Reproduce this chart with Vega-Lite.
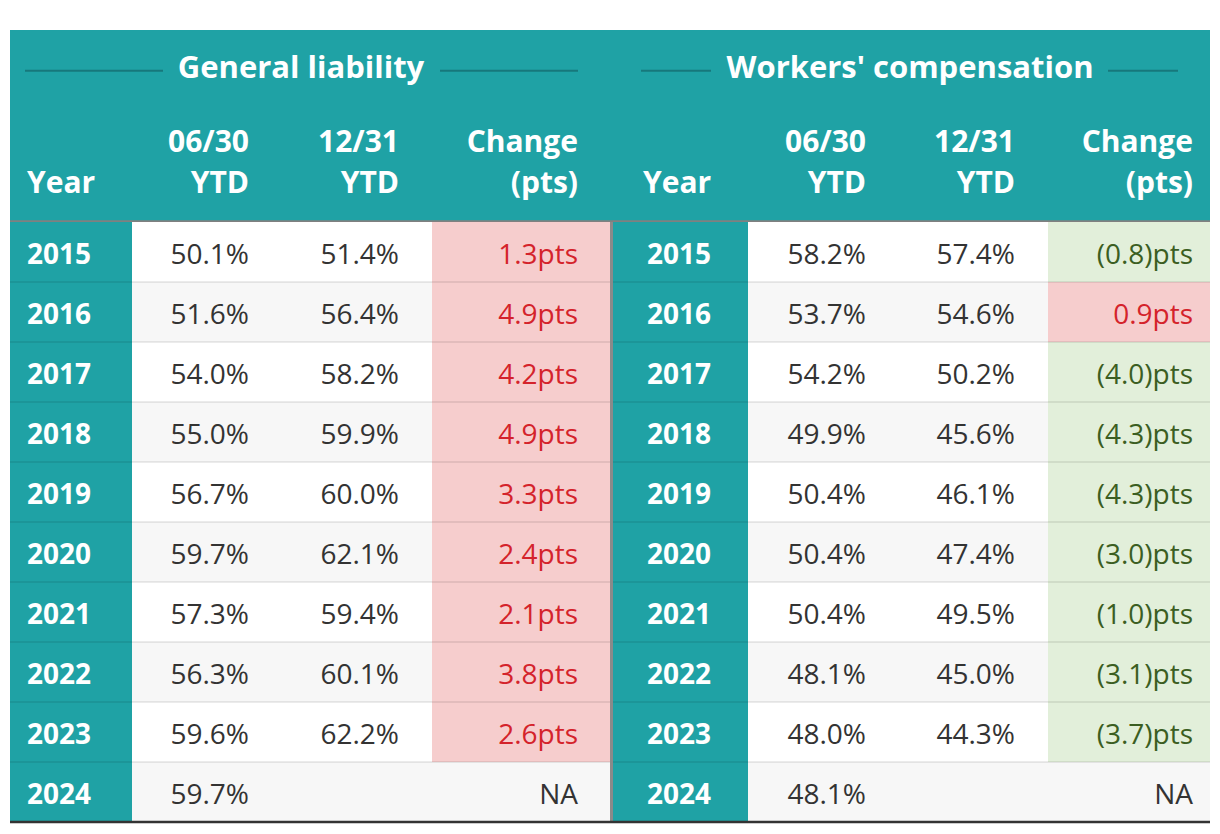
{
  "$schema": "https://vega.github.io/schema/vega-lite/v6.json",
  "background": "white",
  "padding": {"left": 8, "top": 30, "right": 8, "bottom": 0},
  "spacing": 0,
  "bounds": "flush",
  "config": {"view": {"stroke": null}, "axis": {"disable": true}, "font": "Open Sans"},
  "datasets": {
    "header": [
      {"level": "group", "key": "gl", "label": "General liability"},
      {"level": "group", "key": "wc", "label": "Workers' compensation"},
      {"level": "cols", "key": "gl_year", "label": ["Year"]},
      {"level": "cols", "key": "gl_jun", "label": ["06/30", "YTD"]},
      {"level": "cols", "key": "gl_dec", "label": ["12/31", "YTD"]},
      {"level": "cols", "key": "gl_chg", "label": ["Change", "(pts)"]},
      {"level": "cols", "key": "wc_year", "label": ["Year"]},
      {"level": "cols", "key": "wc_jun", "label": ["06/30", "YTD"]},
      {"level": "cols", "key": "wc_dec", "label": ["12/31", "YTD"]},
      {"level": "cols", "key": "wc_chg", "label": ["Change", "(pts)"]}
    ],
    "rows": [
      {"year": "2015", "gl_jun": "50.1%", "gl_dec": "51.4%", "gl_c": 1.3, "gl_ct": "1.3pts", "wc_jun": "58.2%", "wc_dec": "57.4%", "wc_c": -0.8, "wc_ct": "(0.8)pts"},
      {"year": "2016", "gl_jun": "51.6%", "gl_dec": "56.4%", "gl_c": 4.9, "gl_ct": "4.9pts", "wc_jun": "53.7%", "wc_dec": "54.6%", "wc_c": 0.9, "wc_ct": "0.9pts"},
      {"year": "2017", "gl_jun": "54.0%", "gl_dec": "58.2%", "gl_c": 4.2, "gl_ct": "4.2pts", "wc_jun": "54.2%", "wc_dec": "50.2%", "wc_c": -4.0, "wc_ct": "(4.0)pts"},
      {"year": "2018", "gl_jun": "55.0%", "gl_dec": "59.9%", "gl_c": 4.9, "gl_ct": "4.9pts", "wc_jun": "49.9%", "wc_dec": "45.6%", "wc_c": -4.3, "wc_ct": "(4.3)pts"},
      {"year": "2019", "gl_jun": "56.7%", "gl_dec": "60.0%", "gl_c": 3.3, "gl_ct": "3.3pts", "wc_jun": "50.4%", "wc_dec": "46.1%", "wc_c": -4.3, "wc_ct": "(4.3)pts"},
      {"year": "2020", "gl_jun": "59.7%", "gl_dec": "62.1%", "gl_c": 2.4, "gl_ct": "2.4pts", "wc_jun": "50.4%", "wc_dec": "47.4%", "wc_c": -3.0, "wc_ct": "(3.0)pts"},
      {"year": "2021", "gl_jun": "57.3%", "gl_dec": "59.4%", "gl_c": 2.1, "gl_ct": "2.1pts", "wc_jun": "50.4%", "wc_dec": "49.5%", "wc_c": -1.0, "wc_ct": "(1.0)pts"},
      {"year": "2022", "gl_jun": "56.3%", "gl_dec": "60.1%", "gl_c": 3.8, "gl_ct": "3.8pts", "wc_jun": "48.1%", "wc_dec": "45.0%", "wc_c": -3.1, "wc_ct": "(3.1)pts"},
      {"year": "2023", "gl_jun": "59.6%", "gl_dec": "62.2%", "gl_c": 2.6, "gl_ct": "2.6pts", "wc_jun": "48.0%", "wc_dec": "44.3%", "wc_c": -3.7, "wc_ct": "(3.7)pts"},
      {"year": "2024", "gl_jun": "59.7%", "gl_dec": "", "gl_c": null, "gl_ct": "NA", "wc_jun": "48.1%", "wc_dec": "", "wc_c": null, "wc_ct": "NA"}
    ]
  },
  "vconcat": [
    {
      "width": 1200,
      "height": 192,
      "data": {"name": "header"},
      "encoding": {
        "y": {"field": "level", "type": "nominal", "scale": {"domain": ["group", "cols"], "paddingInner": 0, "paddingOuter": 0}}
      },
      "layer": [
        {
          "mark": {"type": "rect", "fill": "#1fa2a5"},
          "encoding": {
            "x": {"datum": 0, "type": "quantitative", "scale": {"type": "linear", "domain": [0, 1, 2, 3, 4, 5, 6, 7, 8, 9], "range": [0, 122, 271, 422, 600, 603, 738, 888, 1038, 1200], "nice": false, "zero": false}},
            "x2": {"datum": 9}
          }
        },
        {
          "transform": [{"filter": "datum.key == 'gl'"}],
          "mark": {"type": "rule", "stroke": "#17787c", "strokeWidth": 2, "xOffset": 15, "x2Offset": 31},
          "encoding": {"x": {"datum": 0}, "x2": {"datum": 1}, "y": {"field": "level", "type": "nominal", "bandPosition": 0.424}}
        },
        {
          "transform": [{"filter": "datum.key == 'gl'"}],
          "mark": {"type": "rule", "stroke": "#17787c", "strokeWidth": 2, "xOffset": 8, "x2Offset": -32},
          "encoding": {"x": {"datum": 3}, "x2": {"datum": 4}, "y": {"field": "level", "type": "nominal", "bandPosition": 0.424}}
        },
        {
          "transform": [{"filter": "datum.key == 'wc'"}],
          "mark": {"type": "rule", "stroke": "#17787c", "strokeWidth": 2, "xOffset": 28, "x2Offset": -37},
          "encoding": {"x": {"datum": 5}, "x2": {"datum": 6}, "y": {"field": "level", "type": "nominal", "bandPosition": 0.424}}
        },
        {
          "transform": [{"filter": "datum.key == 'wc'"}],
          "mark": {"type": "rule", "stroke": "#17787c", "strokeWidth": 2, "xOffset": 60, "x2Offset": -32},
          "encoding": {"x": {"datum": 8}, "x2": {"datum": 9}, "y": {"field": "level", "type": "nominal", "bandPosition": 0.424}}
        },
        {
          "transform": [{"filter": "datum.key == 'gl_year'"}],
          "mark": {"type": "rule", "stroke": "#808080", "strokeWidth": 3.5},
          "encoding": {"x": {"datum": 0}, "x2": {"datum": 9}, "y": {"field": "level", "type": "nominal", "bandPosition": 1}}
        },
        {
          "transform": [{"filter": "datum.key == 'gl'"}],
          "mark": {"type": "text", "align": "center", "baseline": "alphabetic", "dx": 20, "dy": 0, "fontSize": 31, "fontWeight": "bold", "fill": "white"},
          "encoding": {"x": {"datum": 2}, "text": {"field": "label"}}
        },
        {
          "transform": [{"filter": "datum.key == 'wc'"}],
          "mark": {"type": "text", "align": "center", "baseline": "alphabetic", "dx": 12, "dy": 0, "fontSize": 31, "fontWeight": "bold", "fill": "white"},
          "encoding": {"x": {"datum": 7}, "text": {"field": "label"}}
        },
        {
          "transform": [{"filter": "datum.key == 'gl_year'"}],
          "mark": {"type": "text", "align": "left", "baseline": "alphabetic", "dx": 17, "dy": -29, "lineHeight": 41, "fontSize": 30, "fontWeight": "bold", "fill": "white"},
          "encoding": {"x": {"datum": 0}, "y": {"field": "level", "type": "nominal", "bandPosition": 1}, "text": {"field": "label"}}
        },
        {
          "transform": [{"filter": "datum.key == 'gl_jun'"}],
          "mark": {"type": "text", "align": "right", "baseline": "alphabetic", "dx": -32, "dy": -70, "lineHeight": 41, "fontSize": 30, "fontWeight": "bold", "fill": "white"},
          "encoding": {"x": {"datum": 2}, "y": {"field": "level", "type": "nominal", "bandPosition": 1}, "text": {"field": "label"}}
        },
        {
          "transform": [{"filter": "datum.key == 'gl_dec'"}],
          "mark": {"type": "text", "align": "right", "baseline": "alphabetic", "dx": -33, "dy": -70, "lineHeight": 41, "fontSize": 30, "fontWeight": "bold", "fill": "white"},
          "encoding": {"x": {"datum": 3}, "y": {"field": "level", "type": "nominal", "bandPosition": 1}, "text": {"field": "label"}}
        },
        {
          "transform": [{"filter": "datum.key == 'gl_chg'"}],
          "mark": {"type": "text", "align": "right", "baseline": "alphabetic", "dx": -32, "dy": -70, "lineHeight": 41, "fontSize": 30, "fontWeight": "bold", "fill": "white"},
          "encoding": {"x": {"datum": 4}, "y": {"field": "level", "type": "nominal", "bandPosition": 1}, "text": {"field": "label"}}
        },
        {
          "transform": [{"filter": "datum.key == 'wc_year'"}],
          "mark": {"type": "text", "align": "left", "baseline": "alphabetic", "dx": 30, "dy": -29, "lineHeight": 41, "fontSize": 30, "fontWeight": "bold", "fill": "white"},
          "encoding": {"x": {"datum": 5}, "y": {"field": "level", "type": "nominal", "bandPosition": 1}, "text": {"field": "label"}}
        },
        {
          "transform": [{"filter": "datum.key == 'wc_jun'"}],
          "mark": {"type": "text", "align": "right", "baseline": "alphabetic", "dx": -32, "dy": -70, "lineHeight": 41, "fontSize": 30, "fontWeight": "bold", "fill": "white"},
          "encoding": {"x": {"datum": 7}, "y": {"field": "level", "type": "nominal", "bandPosition": 1}, "text": {"field": "label"}}
        },
        {
          "transform": [{"filter": "datum.key == 'wc_dec'"}],
          "mark": {"type": "text", "align": "right", "baseline": "alphabetic", "dx": -33, "dy": -70, "lineHeight": 41, "fontSize": 30, "fontWeight": "bold", "fill": "white"},
          "encoding": {"x": {"datum": 8}, "y": {"field": "level", "type": "nominal", "bandPosition": 1}, "text": {"field": "label"}}
        },
        {
          "transform": [{"filter": "datum.key == 'wc_chg'"}],
          "mark": {"type": "text", "align": "right", "baseline": "alphabetic", "dx": -17, "dy": -70, "lineHeight": 41, "fontSize": 30, "fontWeight": "bold", "fill": "white"},
          "encoding": {"x": {"datum": 9}, "y": {"field": "level", "type": "nominal", "bandPosition": 1}, "text": {"field": "label"}}
        }
      ]
    },
    {
      "width": 1200,
      "height": 600,
      "data": {"name": "rows"},
      "encoding": {
        "y": {"field": "year", "type": "ordinal", "scale": {"paddingInner": 0, "paddingOuter": 0}}
      },
      "layer": [
        {
          "mark": {"type": "rect"},
          "encoding": {
            "x": {"datum": 0, "type": "quantitative", "scale": {"type": "linear", "domain": [0, 1, 2, 3, 4, 5, 6, 7, 8, 9], "range": [0, 122, 271, 422, 600, 603, 738, 888, 1038, 1200], "nice": false, "zero": false}},
            "x2": {"datum": 9},
            "fill": {"condition": {"test": "datum.year % 2 == 0", "value": "#f7f7f7"}, "value": "#ffffff"}
          }
        },
        {
          "transform": [{"filter": "datum.gl_c != null"}],
          "mark": {"type": "rect"},
          "encoding": {
            "x": {"datum": 3}, "x2": {"datum": 4},
            "fill": {"condition": {"test": "datum.gl_c > 0", "value": "#f6cdcd"}, "value": "#e2efda"}
          }
        },
        {
          "transform": [{"filter": "datum.wc_c != null"}],
          "mark": {"type": "rect"},
          "encoding": {
            "x": {"datum": 8}, "x2": {"datum": 9},
            "fill": {"condition": {"test": "datum.wc_c > 0", "value": "#f6cdcd"}, "value": "#e2efda"}
          }
        },
        {
          "mark": {"type": "rect", "fill": "#1fa2a5"},
          "encoding": {"x": {"datum": 0}, "x2": {"datum": 1}}
        },
        {
          "mark": {"type": "rect", "fill": "#1fa2a5"},
          "encoding": {"x": {"datum": 5}, "x2": {"datum": 6}}
        },
        {
          "transform": [{"filter": "datum.year != '2024'"}],
          "mark": {"type": "rule", "stroke": "#000000", "strokeOpacity": 0.08, "strokeWidth": 2},
          "encoding": {"x": {"datum": 0}, "x2": {"datum": 9}, "y": {"field": "year", "type": "ordinal", "bandPosition": 1}}
        },
        {
          "mark": {"type": "rect", "fill": "#8a8a8a"},
          "encoding": {"x": {"datum": 4}, "x2": {"datum": 5}}
        },
        {
          "transform": [{"filter": "datum.year == '2024'"}],
          "mark": {"type": "rule", "stroke": "#333333", "strokeWidth": 2.5},
          "encoding": {"x": {"datum": 0}, "x2": {"datum": 9}, "y": {"field": "year", "type": "ordinal", "bandPosition": 1}}
        },
        {
          "mark": {"type": "text", "align": "left", "baseline": "middle", "dx": 17, "dy": 4, "fontSize": 28, "fontWeight": "bold", "fill": "white"},
          "encoding": {"x": {"datum": 0}, "text": {"field": "year"}}
        },
        {
          "mark": {"type": "text", "align": "left", "baseline": "middle", "dx": 34, "dy": 4, "fontSize": 28, "fontWeight": "bold", "fill": "white"},
          "encoding": {"x": {"datum": 5}, "text": {"field": "year"}}
        },
        {
          "mark": {"type": "text", "align": "right", "baseline": "middle", "dx": -32, "dy": 4, "fontSize": 28, "fill": "#333333"},
          "encoding": {"x": {"datum": 2}, "text": {"field": "gl_jun"}}
        },
        {
          "mark": {"type": "text", "align": "right", "baseline": "middle", "dx": -33, "dy": 4, "fontSize": 28, "fill": "#333333"},
          "encoding": {"x": {"datum": 3}, "text": {"field": "gl_dec"}}
        },
        {
          "mark": {"type": "text", "align": "right", "baseline": "middle", "dx": -32, "dy": 4, "fontSize": 28},
          "encoding": {
            "x": {"datum": 4}, "text": {"field": "gl_ct"},
            "fill": {"condition": [{"test": "datum.gl_c > 0", "value": "#d4232b"}, {"test": "datum.gl_c < 0", "value": "#3b5e22"}], "value": "#333333"}
          }
        },
        {
          "mark": {"type": "text", "align": "right", "baseline": "middle", "dx": -32, "dy": 4, "fontSize": 28, "fill": "#333333"},
          "encoding": {"x": {"datum": 7}, "text": {"field": "wc_jun"}}
        },
        {
          "mark": {"type": "text", "align": "right", "baseline": "middle", "dx": -33, "dy": 4, "fontSize": 28, "fill": "#333333"},
          "encoding": {"x": {"datum": 8}, "text": {"field": "wc_dec"}}
        },
        {
          "mark": {"type": "text", "align": "right", "baseline": "middle", "dx": -17, "dy": 4, "fontSize": 28},
          "encoding": {
            "x": {"datum": 9}, "text": {"field": "wc_ct"},
            "fill": {"condition": [{"test": "datum.wc_c > 0", "value": "#d4232b"}, {"test": "datum.wc_c < 0", "value": "#3b5e22"}], "value": "#333333"}
          }
        }
      ]
    }
  ]
}
